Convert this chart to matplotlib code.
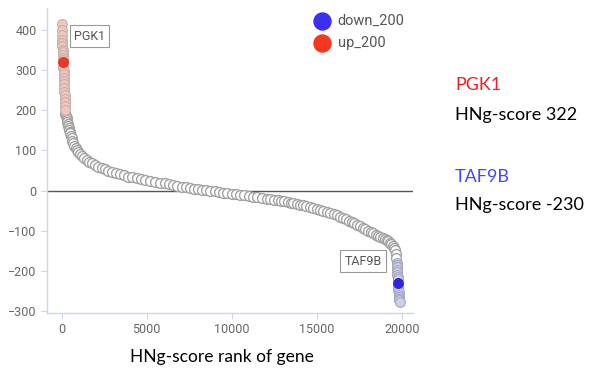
import matplotlib
matplotlib.use('Agg')
import matplotlib.pyplot as plt

# ranked gene scores (rank, HNg-score)
up_rank = [0, 8, 16, 24, 32, 40, 48, 56, 64, 72, 80, 96, 104, 112, 120, 128,
           136, 144, 152, 160, 168, 176, 184, 192, 200]
up_score = [415, 400, 388, 377, 368, 360, 352, 345, 338, 331, 325, 312, 305,
            298, 290, 282, 274, 265, 256, 247, 238, 229, 220, 210, 200]

mid_rank = [220, 250, 294, 320, 340, 365, 390, 415, 440, 465, 490, 530, 580,
            630, 680, 750, 820, 900, 980, 1090, 1200, 1330, 1470, 1630, 1800,
            1980, 2160, 2350, 2540, 2740, 2940, 3180, 3420, 3670, 3920, 4160,
            4400, 4650, 4900, 5190, 5480, 5780, 6080, 6320, 6570, 6810, 7060,
            7300, 7550, 7800, 8040, 8270, 8500, 8750, 9000, 9250, 9500, 9750,
            10000, 10250, 10490, 10750, 11000, 11250, 11500, 11780, 12060,
            12280, 12500, 12700, 12900, 13100, 13300, 13460, 13620, 13820,
            14020, 14210, 14400, 14600, 14800, 15000, 15190, 15400, 15600,
            15800, 16000, 16190, 16370, 16540, 16700, 16880, 17050, 17200,
            17350, 17530, 17700, 17850, 18000, 18170, 18330, 18470, 18600,
            18740, 18880, 19000, 19120, 19210, 19300, 19380, 19460, 19540,
            19610, 19650, 19680]
mid_score = [190, 185, 180, 175, 170, 165, 160, 155, 151, 147, 143, 137, 130,
             124, 118, 112, 107, 102, 97, 91, 86, 81, 77, 72, 68,
             64, 60, 56, 53, 50, 47, 44, 41, 38, 35, 33,
             31, 29, 27, 24, 22, 20, 18, 16, 14, 12, 10,
             8, 6, 5, 4, 2, 1, 0, -2, -3, -5, -6,
             -8, -9, -11, -12, -14, -15, -17, -18, -20,
             -21, -23, -24, -26, -27, -29, -30, -32, -34,
             -36, -37, -39, -41, -43, -45, -48, -50, -53,
             -56, -59, -62, -65, -68, -72, -75, -79, -82,
             -86, -89, -93, -96, -100, -103, -107, -110, -113,
             -115, -118, -120, -123, -126, -130, -134, -138, -143,
             -148, -158, -168]

down_rank = [19700, 19710, 19720, 19730, 19740, 19750, 19760, 19770, 19790,
             19800, 19810, 19820, 19830, 19840, 19850, 19870, 19900]
down_score = [-180, -186, -192, -198, -204, -210, -216, -222, -236,
              -242, -248, -254, -260, -266, -270, -274, -278]

hit_up = ('PGK1', 88, 322)
hit_down = ('TAF9B', 19780, -230)

plt.rcParams['font.family'] = ['Roboto', 'DejaVu Sans']

fig = plt.figure(figsize=(5.89, 3.72), dpi=100)
ax = fig.add_axes([47/589, 1-313/372, 366/589, 305/372])

ax.axhline(0, color='#555555', lw=1.0, zorder=1)

ax.scatter(mid_rank, mid_score, s=50, facecolor='white', edgecolor='#a2a2a2',
           linewidth=1.0, zorder=3)
ax.scatter(up_rank, up_score, s=50, facecolor='#f2c6bd', edgecolor='#c4b0ac',
           linewidth=0.8, zorder=3)
ax.scatter(down_rank, down_score, s=50, facecolor='#cfcdef', edgecolor='#a8a8bc',
           linewidth=0.8, zorder=3)
ax.scatter([hit_up[1]], [hit_up[2]], s=52, facecolor='#f0391f', edgecolor='#c03a2a',
           linewidth=0.6, zorder=4)
ax.scatter([hit_down[1]], [hit_down[2]], s=52, facecolor='#2e22f2', edgecolor='#3030a0',
           linewidth=0.6, zorder=4)

box = dict(boxstyle='square,pad=0.35', facecolor='white', edgecolor='#999999', lw=0.8)
ax.text(720, 386, hit_up[0], fontsize=9, color='#555555', va='center', ha='left',
        bbox=box, zorder=5)
ax.text(16650, -177, hit_down[0], fontsize=9, color='#555555', va='center', ha='left',
        bbox=box, zorder=5)

ax.set_xlim(-865, 20665)
ax.set_ylim(-306, 456)
ax.set_xticks([0, 5000, 10000, 15000, 20000])
ax.set_yticks([-300, -200, -100, 0, 100, 200, 300, 400])
ax.tick_params(colors='#ccd6eb', labelcolor='#666666', labelsize=9, length=4, width=0.8)

for s in ['top', 'right']:
    ax.spines[s].set_visible(False)
for s in ['left', 'bottom']:
    ax.spines[s].set_color('#ccd6eb')
    ax.spines[s].set_linewidth(1.0)

ax.scatter([], [], s=150, color='#3b2ff5', label='down_200')
ax.scatter([], [], s=150, color='#f5371f', label='up_200')
ax.legend(loc='upper left', bbox_to_anchor=(0.695, 1.0), frameon=False, fontsize=10.5,
          labelcolor='#555555', handletextpad=0.1, borderaxespad=0, labelspacing=0.55)

fig.text(222/589, 1-357/372, 'HNg-score rank of gene', fontsize=12.5, ha='center',
         va='center', family=['Lato', 'DejaVu Sans'])

side = dict(fontsize=13, ha='left', va='center', family=['Lato', 'DejaVu Sans'])
fig.text(455/589, 1-85/372, hit_up[0], color='#f01f1f', **side)
fig.text(455/589, 1-115/372, 'HNg-score %d' % hit_up[2], color='black', **side)
fig.text(455/589, 1-177/372, hit_down[0], color='#4646f5', **side)
fig.text(455/589, 1-205/372, 'HNg-score %d' % hit_down[2], color='black', **side)

fig.savefig('out.png', dpi=100)
